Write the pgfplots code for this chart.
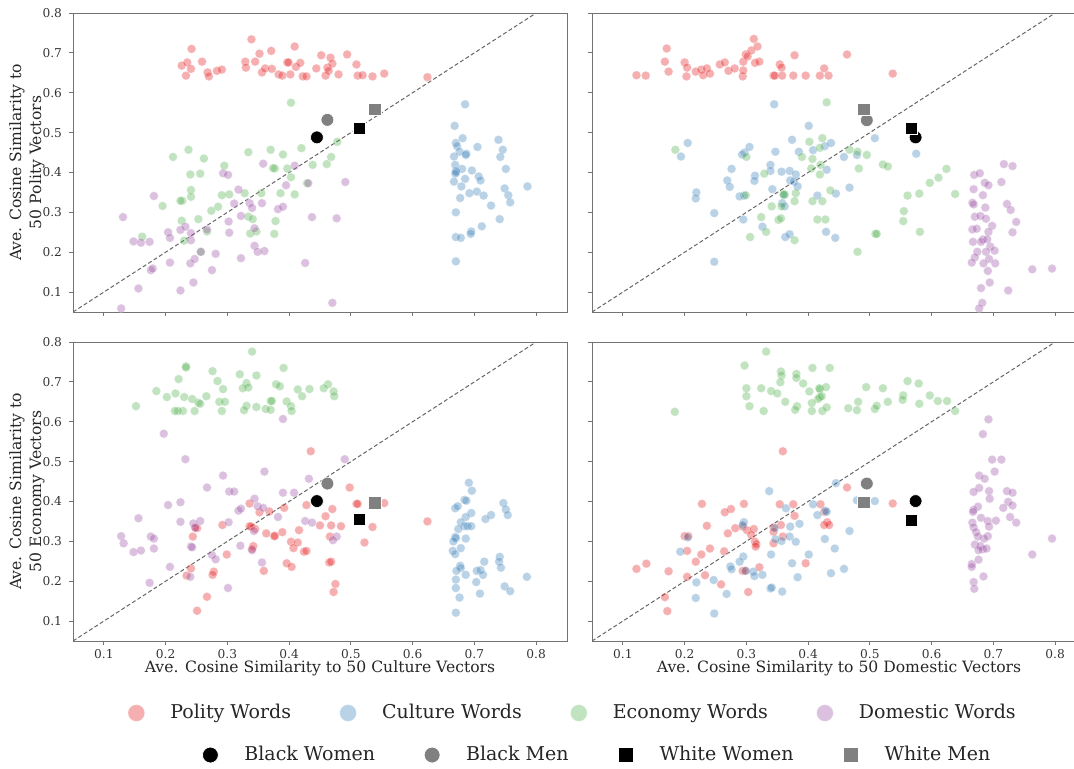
\documentclass[border=0pt]{standalone}
\usepackage{pgfplots}
\pgfplotsset{compat=1.18}
\usepackage{fontspec}
\setmainfont{DejaVu Serif}
\definecolor{cpol}{RGB}{228,26,28}
\definecolor{ccul}{RGB}{55,126,184}
\definecolor{ceco}{RGB}{77,175,74}
\definecolor{cdom}{RGB}{152,78,163}
\pgfplotsset{
  panel/.style={scale only axis, width=247pt, height=149.5pt,
    anchor=south west,
    xmin=0.05, xmax=0.85, ymin=0.05, ymax=0.8,
    xtick={0.1,0.2,0.3,0.4,0.5,0.6,0.7,0.8},
    ytick={0.1,0.2,0.3,0.4,0.5,0.6,0.7,0.8},
    tick align=outside, tick pos=left, major tick length=2pt,
    axis line style={black!55, line width=0.5pt},
    every tick/.style={black!55, line width=0.5pt},
    tick label style={font=\fontsize{6.1}{7}\selectfont, text=black!80},
    xticklabel style={yshift=1.2pt},
    /pgf/number format/assume math mode=true,
    /pgf/number format/fixed, /pgf/number format/precision=1,
    every axis y label/.style={at={(axis description cs:0,0.5)}, xshift=-14pt, rotate=90, anchor=south,
      inner sep=0pt, align=center, font=\fontsize{7.8}{10}\selectfont, text=black!85},
    every axis x label/.style={at={(axis description cs:0.5,0)}, anchor=north,
      yshift=-9.5pt, inner sep=0pt, font=\fontsize{7.8}{9.5}\selectfont, text=black!85},
  },
  wpol/.style={only marks, mark=*, mark size=2.2pt, mark options={fill=cpol, draw=white, line width=0.3pt, opacity=0.35}},
  wcul/.style={only marks, mark=*, mark size=2.2pt, mark options={fill=ccul, draw=white, line width=0.3pt, opacity=0.35}},
  weco/.style={only marks, mark=*, mark size=2.2pt, mark options={fill=ceco, draw=white, line width=0.3pt, opacity=0.35}},
  wdom/.style={only marks, mark=*, mark size=2.2pt, mark options={fill=cdom, draw=white, line width=0.3pt, opacity=0.35}},
  bw/.style={only marks, mark=*, mark size=3.2pt, mark options={fill=black, draw=white, line width=0.3pt}},
  bm/.style={only marks, mark=*, mark size=3.2pt, mark options={fill=gray, draw=white, line width=0.3pt}},
  ww/.style={only marks, mark=square*, mark size=3.1pt, mark options={fill=black, draw=white, line width=0.3pt}},
  wm/.style={only marks, mark=square*, mark size=3.1pt, mark options={fill=gray, draw=white, line width=0.3pt}},
  diag/.style={black!60, dash pattern=on 2pt off 1.2pt, line width=0.5pt, forget plot},
  legax/.style={hide axis, scale only axis, width=537pt, height=384pt, at={(0pt,0pt)}, anchor=south west,
    xmin=0, xmax=1, ymin=0, ymax=1,
    legend columns=4,
    legend image code/.code={\draw[##1] plot coordinates {(0pt,0pt)}; \path[draw=none, fill=none] (-5pt,-4.5pt) rectangle (17pt,4.5pt);},
  },
}
\begin{document}
\begin{tikzpicture}
% ---------------- Top left ----------------
\begin{axis}[panel, at={(36.5pt,228pt)}, xticklabels=\empty,
  ylabel={Ave. Cosine Similarity to\\50 Polity Vectors}]
\addplot[wpol] coordinates {(0.226,0.668)(0.233,0.643)(0.235,0.676)(0.242,0.710)(0.241,0.660)(0.259,0.678)(0.268,0.651)(0.270,0.641)(0.283,0.655)(0.291,0.658)(0.329,0.678)(0.330,0.663)(0.339,0.734)(0.345,0.678)(0.352,0.698)(0.356,0.651)(0.361,0.661)(0.371,0.705)(0.372,0.660)(0.383,0.646)(0.389,0.643)(0.397,0.676)(0.399,0.676)(0.402,0.646)(0.409,0.716)(0.411,0.665)(0.418,0.675)(0.422,0.641)(0.428,0.641)(0.444,0.661)(0.452,0.694)(0.459,0.643)(0.462,0.663)(0.464,0.655)(0.467,0.688)(0.470,0.673)(0.480,0.646)(0.494,0.696)(0.509,0.671)(0.511,0.643)(0.519,0.644)(0.535,0.641)(0.554,0.648)(0.624,0.639)};
\addplot[wcul] coordinates {(0.685,0.571)(0.668,0.517)(0.670,0.474)(0.672,0.466)(0.681,0.486)(0.676,0.452)(0.687,0.447)(0.686,0.444)(0.667,0.440)(0.705,0.464)(0.739,0.482)(0.746,0.457)(0.742,0.439)(0.669,0.419)(0.680,0.409)(0.670,0.404)(0.671,0.401)(0.669,0.397)(0.696,0.405)(0.707,0.390)(0.710,0.380)(0.685,0.384)(0.751,0.409)(0.667,0.377)(0.679,0.365)(0.677,0.336)(0.692,0.348)(0.704,0.352)(0.715,0.342)(0.749,0.360)(0.755,0.343)(0.758,0.325)(0.786,0.365)(0.727,0.317)(0.670,0.300)(0.741,0.283)(0.712,0.265)(0.695,0.252)(0.694,0.246)(0.670,0.238)(0.678,0.236)(0.670,0.177)};
\addplot[weco] coordinates {(0.403,0.575)(0.478,0.477)(0.468,0.439)(0.461,0.421)(0.438,0.419)(0.420,0.461)(0.397,0.410)(0.390,0.445)(0.377,0.410)(0.374,0.411)(0.370,0.457)(0.334,0.451)(0.295,0.417)(0.262,0.435)(0.256,0.397)(0.240,0.395)(0.237,0.457)(0.212,0.439)(0.403,0.388)(0.429,0.373)(0.409,0.345)(0.386,0.348)(0.355,0.348)(0.328,0.348)(0.303,0.345)(0.291,0.343)(0.241,0.356)(0.241,0.339)(0.227,0.329)(0.224,0.329)(0.195,0.316)(0.285,0.314)(0.274,0.304)(0.253,0.283)(0.226,0.279)(0.267,0.252)(0.230,0.229)(0.162,0.239)(0.334,0.289)(0.341,0.283)(0.337,0.247)(0.347,0.252)(0.378,0.278)(0.376,0.246)(0.257,0.201)};
\addplot[wdom] coordinates {(0.131,0.288)(0.181,0.341)(0.148,0.227)(0.160,0.224)(0.174,0.226)(0.204,0.250)(0.207,0.236)(0.224,0.256)(0.232,0.264)(0.241,0.248)(0.241,0.230)(0.207,0.174)(0.176,0.155)(0.179,0.159)(0.156,0.109)(0.128,0.059)(0.224,0.104)(0.245,0.124)(0.240,0.172)(0.247,0.183)(0.275,0.155)(0.281,0.196)(0.267,0.257)(0.303,0.249)(0.302,0.277)(0.322,0.291)(0.318,0.357)(0.311,0.322)(0.293,0.398)(0.301,0.394)(0.336,0.323)(0.340,0.311)(0.356,0.323)(0.344,0.260)(0.344,0.216)(0.349,0.201)(0.360,0.203)(0.322,0.185)(0.358,0.422)(0.382,0.308)(0.390,0.314)(0.395,0.368)(0.409,0.417)(0.431,0.373)(0.437,0.288)(0.477,0.285)(0.491,0.376)(0.426,0.173)(0.470,0.073)(0.257,0.201)};
\addplot[diag] coordinates {(0.05,0.05)(0.85,0.85)};
\addplot[bw] coordinates {(0.445,0.488)};
\addplot[bm] coordinates {(0.462,0.532)};
\addplot[ww] coordinates {(0.514,0.511)};
\addplot[wm] coordinates {(0.539,0.558)};
\end{axis}
% ---------------- Top right ----------------
\begin{axis}[panel, at={(296pt,228pt)}, xticklabels=\empty, yticklabels=\empty]
\addplot[wpol] coordinates {(0.122,0.644)(0.137,0.643)(0.171,0.711)(0.168,0.678)(0.174,0.653)(0.200,0.676)(0.204,0.663)(0.203,0.641)(0.218,0.653)(0.227,0.658)(0.230,0.644)(0.236,0.661)(0.241,0.648)(0.257,0.671)(0.265,0.676)(0.271,0.655)(0.281,0.661)(0.294,0.641)(0.295,0.656)(0.295,0.678)(0.299,0.696)(0.302,0.691)(0.308,0.706)(0.312,0.735)(0.318,0.716)(0.314,0.675)(0.321,0.678)(0.344,0.643)(0.346,0.643)(0.354,0.671)(0.357,0.663)(0.358,0.643)(0.376,0.643)(0.378,0.694)(0.396,0.643)(0.419,0.643)(0.426,0.661)(0.433,0.643)(0.463,0.696)(0.537,0.648)};
\addplot[wcul] coordinates {(0.345,0.571)(0.401,0.517)(0.205,0.474)(0.194,0.440)(0.297,0.450)(0.305,0.464)(0.293,0.445)(0.374,0.482)(0.347,0.452)(0.385,0.452)(0.408,0.456)(0.427,0.466)(0.437,0.474)(0.508,0.486)(0.458,0.439)(0.479,0.444)(0.575,0.447)(0.430,0.407)(0.276,0.409)(0.269,0.380)(0.273,0.364)(0.314,0.392)(0.313,0.379)(0.339,0.419)(0.339,0.404)(0.357,0.402)(0.370,0.404)(0.380,0.395)(0.371,0.380)(0.377,0.377)(0.383,0.365)(0.342,0.358)(0.219,0.350)(0.218,0.335)(0.289,0.340)(0.296,0.342)(0.361,0.343)(0.415,0.342)(0.445,0.347)(0.467,0.362)(0.358,0.323)(0.362,0.315)(0.248,0.298)(0.295,0.282)(0.326,0.264)(0.429,0.251)(0.444,0.236)(0.363,0.238)(0.370,0.245)(0.248,0.176)};
\addplot[weco] coordinates {(0.430,0.576)(0.185,0.457)(0.402,0.477)(0.423,0.486)(0.419,0.462)(0.390,0.439)(0.407,0.434)(0.420,0.419)(0.419,0.395)(0.405,0.410)(0.467,0.457)(0.480,0.452)(0.495,0.444)(0.482,0.410)(0.521,0.420)(0.529,0.415)(0.624,0.409)(0.611,0.387)(0.597,0.374)(0.580,0.347)(0.561,0.342)(0.638,0.346)(0.555,0.303)(0.554,0.278)(0.581,0.251)(0.509,0.246)(0.511,0.246)(0.480,0.201)(0.436,0.355)(0.423,0.328)(0.407,0.328)(0.428,0.282)(0.415,0.282)(0.380,0.348)(0.378,0.328)(0.362,0.345)(0.360,0.345)(0.357,0.315)(0.341,0.315)(0.299,0.343)(0.329,0.397)(0.324,0.288)(0.332,0.251)(0.352,0.281)(0.356,0.285)(0.378,0.230)(0.306,0.238)(0.300,0.439)};
\addplot[wdom] coordinates {(0.717,0.421)(0.731,0.416)(0.669,0.394)(0.678,0.398)(0.686,0.374)(0.692,0.368)(0.713,0.376)(0.668,0.358)(0.683,0.343)(0.666,0.324)(0.668,0.320)(0.687,0.312)(0.722,0.321)(0.728,0.306)(0.670,0.289)(0.679,0.291)(0.688,0.284)(0.737,0.276)(0.698,0.266)(0.666,0.257)(0.673,0.259)(0.692,0.251)(0.731,0.250)(0.667,0.226)(0.683,0.232)(0.680,0.226)(0.690,0.232)(0.695,0.214)(0.702,0.204)(0.674,0.201)(0.688,0.201)(0.670,0.187)(0.693,0.183)(0.665,0.174)(0.684,0.172)(0.703,0.172)(0.691,0.153)(0.763,0.157)(0.795,0.159)(0.694,0.124)(0.680,0.110)(0.724,0.104)(0.682,0.073)(0.677,0.059)};
\addplot[diag] coordinates {(0.05,0.05)(0.85,0.85)};
\addplot[bw] coordinates {(0.574,0.488)};
\addplot[bm] coordinates {(0.495,0.531)};
\addplot[ww] coordinates {(0.567,0.511)};
\addplot[wm] coordinates {(0.490,0.559)};
\end{axis}
% ---------------- Bottom left ----------------
\begin{axis}[panel, at={(36.5pt,63.5pt)},
  ylabel={Ave. Cosine Similarity to\\50 Economy Vectors},
  xlabel={Ave. Cosine Similarity to 50 Culture Vectors}]
\addplot[wpol] coordinates {(0.435,0.526)(0.498,0.435)(0.509,0.394)(0.511,0.394)(0.428,0.391)(0.470,0.381)(0.459,0.363)(0.450,0.340)(0.468,0.340)(0.484,0.338)(0.466,0.312)(0.522,0.297)(0.416,0.328)(0.403,0.299)(0.414,0.297)(0.407,0.283)(0.424,0.274)(0.428,0.276)(0.389,0.323)(0.377,0.314)(0.376,0.313)(0.363,0.320)(0.392,0.384)(0.368,0.375)(0.352,0.373)(0.345,0.331)(0.336,0.395)(0.339,0.337)(0.336,0.338)(0.292,0.341)(0.248,0.335)(0.251,0.333)(0.244,0.312)(0.299,0.267)(0.342,0.288)(0.340,0.281)(0.396,0.245)(0.404,0.236)(0.465,0.247)(0.468,0.249)(0.475,0.193)(0.472,0.173)(0.359,0.226)(0.278,0.224)(0.276,0.216)(0.241,0.232)(0.234,0.214)(0.267,0.161)(0.251,0.126)(0.554,0.396)(0.535,0.336)(0.624,0.350)};
\addplot[wcul] coordinates {(0.691,0.447)(0.696,0.427)(0.684,0.404)(0.687,0.402)(0.669,0.383)(0.673,0.388)(0.747,0.396)(0.751,0.380)(0.754,0.366)(0.727,0.366)(0.718,0.356)(0.695,0.371)(0.686,0.361)(0.678,0.348)(0.684,0.338)(0.689,0.338)(0.695,0.338)(0.674,0.331)(0.669,0.311)(0.670,0.308)(0.666,0.300)(0.686,0.307)(0.665,0.276)(0.669,0.268)(0.678,0.283)(0.677,0.239)(0.678,0.233)(0.686,0.216)(0.671,0.226)(0.670,0.204)(0.704,0.226)(0.710,0.228)(0.714,0.216)(0.716,0.249)(0.703,0.198)(0.670,0.183)(0.676,0.159)(0.709,0.169)(0.741,0.261)(0.740,0.249)(0.743,0.234)(0.749,0.187)(0.758,0.175)(0.785,0.211)(0.670,0.121)};
\addplot[weco] coordinates {(0.340,0.776)(0.233,0.739)(0.233,0.736)(0.391,0.735)(0.276,0.727)(0.221,0.707)(0.320,0.719)(0.347,0.716)(0.284,0.702)(0.331,0.697)(0.334,0.686)(0.379,0.694)(0.385,0.689)(0.325,0.684)(0.463,0.694)(0.293,0.682)(0.185,0.677)(0.216,0.671)(0.202,0.662)(0.230,0.662)(0.243,0.657)(0.266,0.664)(0.414,0.681)(0.433,0.682)(0.456,0.684)(0.472,0.676)(0.473,0.664)(0.396,0.651)(0.421,0.664)(0.370,0.652)(0.372,0.652)(0.287,0.650)(0.296,0.650)(0.253,0.648)(0.256,0.645)(0.403,0.639)(0.404,0.627)(0.362,0.632)(0.370,0.630)(0.347,0.637)(0.331,0.640)(0.327,0.629)(0.291,0.627)(0.247,0.627)(0.228,0.627)(0.220,0.627)(0.215,0.627)(0.152,0.639)};
\addplot[wdom] coordinates {(0.390,0.607)(0.197,0.570)(0.232,0.506)(0.293,0.465)(0.360,0.475)(0.267,0.435)(0.303,0.425)(0.311,0.425)(0.390,0.422)(0.408,0.422)(0.432,0.457)(0.490,0.506)(0.344,0.407)(0.349,0.388)(0.358,0.384)(0.318,0.377)(0.322,0.382)(0.204,0.391)(0.224,0.398)(0.156,0.358)(0.224,0.349)(0.245,0.345)(0.256,0.351)(0.248,0.334)(0.302,0.348)(0.382,0.361)(0.426,0.351)(0.437,0.347)(0.343,0.326)(0.477,0.312)(0.471,0.303)(0.128,0.313)(0.132,0.295)(0.148,0.273)(0.160,0.277)(0.176,0.312)(0.181,0.307)(0.181,0.282)(0.241,0.287)(0.243,0.285)(0.321,0.289)(0.340,0.278)(0.275,0.266)(0.281,0.255)(0.356,0.247)(0.207,0.236)(0.240,0.211)(0.174,0.196)(0.301,0.183)};
\addplot[diag] coordinates {(0.05,0.05)(0.85,0.85)};
\addplot[bw] coordinates {(0.445,0.401)};
\addplot[bm] coordinates {(0.462,0.445)};
\addplot[ww] coordinates {(0.514,0.355)};
\addplot[wm] coordinates {(0.539,0.397)};
\end{axis}
% ---------------- Bottom right ----------------
\begin{axis}[panel, at={(296pt,63.5pt)}, yticklabels=\empty,
  xlabel={Ave. Cosine Similarity to 50 Domestic Vectors}]
\addplot[wpol] coordinates {(0.359,0.526)(0.228,0.394)(0.275,0.381)(0.265,0.373)(0.296,0.394)(0.354,0.393)(0.376,0.393)(0.420,0.393)(0.463,0.435)(0.537,0.395)(0.378,0.364)(0.356,0.341)(0.344,0.335)(0.344,0.324)(0.359,0.312)(0.344,0.295)(0.426,0.374)(0.431,0.348)(0.426,0.341)(0.434,0.341)(0.236,0.339)(0.270,0.320)(0.282,0.333)(0.294,0.337)(0.301,0.328)(0.312,0.331)(0.308,0.316)(0.314,0.299)(0.316,0.293)(0.315,0.287)(0.200,0.313)(0.206,0.313)(0.204,0.276)(0.241,0.282)(0.227,0.267)(0.218,0.249)(0.264,0.275)(0.122,0.231)(0.138,0.244)(0.174,0.225)(0.204,0.211)(0.233,0.215)(0.259,0.192)(0.294,0.226)(0.298,0.226)(0.321,0.235)(0.396,0.245)(0.303,0.173)(0.168,0.160)(0.172,0.125)};
\addplot[wcul] coordinates {(0.337,0.426)(0.445,0.446)(0.479,0.403)(0.508,0.401)(0.408,0.393)(0.364,0.383)(0.428,0.377)(0.430,0.374)(0.415,0.366)(0.296,0.348)(0.294,0.341)(0.346,0.333)(0.371,0.337)(0.386,0.344)(0.370,0.312)(0.380,0.299)(0.357,0.301)(0.347,0.305)(0.427,0.306)(0.467,0.326)(0.443,0.282)(0.401,0.267)(0.340,0.267)(0.374,0.245)(0.383,0.210)(0.437,0.220)(0.458,0.231)(0.295,0.262)(0.289,0.249)(0.274,0.237)(0.276,0.230)(0.299,0.226)(0.311,0.224)(0.313,0.213)(0.326,0.216)(0.193,0.274)(0.205,0.310)(0.219,0.197)(0.247,0.203)(0.268,0.168)(0.339,0.182)(0.341,0.184)(0.358,0.174)(0.218,0.158)(0.248,0.119)};
\addplot[weco] coordinates {(0.332,0.776)(0.297,0.741)(0.407,0.735)(0.435,0.735)(0.356,0.726)(0.357,0.716)(0.381,0.720)(0.381,0.710)(0.355,0.699)(0.392,0.696)(0.561,0.702)(0.579,0.696)(0.300,0.684)(0.324,0.684)(0.340,0.677)(0.350,0.671)(0.402,0.676)(0.418,0.684)(0.419,0.682)(0.429,0.687)(0.494,0.687)(0.521,0.684)(0.300,0.664)(0.419,0.662)(0.416,0.657)(0.422,0.664)(0.554,0.666)(0.597,0.666)(0.610,0.652)(0.625,0.652)(0.553,0.655)(0.529,0.650)(0.580,0.645)(0.638,0.627)(0.305,0.639)(0.328,0.627)(0.363,0.650)(0.382,0.639)(0.379,0.630)(0.406,0.647)(0.406,0.627)(0.423,0.627)(0.430,0.636)(0.465,0.634)(0.481,0.650)(0.479,0.629)(0.508,0.632)(0.511,0.640)(0.184,0.625)};
\addplot[wdom] coordinates {(0.692,0.606)(0.683,0.569)(0.698,0.505)(0.713,0.505)(0.702,0.475)(0.677,0.465)(0.686,0.457)(0.677,0.434)(0.668,0.424)(0.693,0.426)(0.694,0.407)(0.722,0.426)(0.731,0.422)(0.724,0.399)(0.731,0.390)(0.716,0.384)(0.675,0.387)(0.668,0.379)(0.667,0.374)(0.680,0.359)(0.691,0.351)(0.704,0.352)(0.727,0.361)(0.737,0.347)(0.666,0.347)(0.668,0.335)(0.693,0.337)(0.672,0.323)(0.691,0.313)(0.685,0.307)(0.675,0.312)(0.670,0.292)(0.679,0.288)(0.683,0.280)(0.689,0.282)(0.676,0.278)(0.795,0.307)(0.763,0.267)(0.676,0.254)(0.665,0.243)(0.665,0.236)(0.684,0.212)(0.668,0.198)(0.669,0.181)};
\addplot[diag] coordinates {(0.05,0.05)(0.85,0.85)};
\addplot[bw] coordinates {(0.574,0.401)};
\addplot[bm] coordinates {(0.495,0.445)};
\addplot[ww] coordinates {(0.567,0.353)};
\addplot[wm] coordinates {(0.490,0.398)};
\end{axis}
% ---------------- Legends ----------------
\begin{axis}[legax,
  legend style={at={(axis description cs:0.1173,0.0716)}, anchor=west, draw=none, fill=none,
    inner sep=0pt, font=\fontsize{9.5}{11}\selectfont, text=black!85,
    cells={anchor=west}, nodes={inner sep=0pt, text height=0.75em, text depth=0.22em},
    /tikz/every even column/.append style={column sep=23.5pt}}]
\addlegendimage{only marks, mark=*, mark size=4.2pt, mark options={fill=cpol, draw=white, opacity=0.35}}
\addlegendentry{Polity Words}
\addlegendimage{only marks, mark=*, mark size=4.2pt, mark options={fill=ccul, draw=white, opacity=0.35}}
\addlegendentry{Culture Words}
\addlegendimage{only marks, mark=*, mark size=4.2pt, mark options={fill=ceco, draw=white, opacity=0.35}}
\addlegendentry{Economy Words}
\addlegendimage{only marks, mark=*, mark size=4.2pt, mark options={fill=cdom, draw=white, opacity=0.35}}
\addlegendentry{Domestic Words}
\end{axis}
\begin{axis}[legax,
  legend style={at={(axis description cs:0.1862,0.0169)}, anchor=west, draw=none, fill=none,
    inner sep=0pt, font=\fontsize{9.5}{11}\selectfont, text=black!85,
    cells={anchor=west}, nodes={inner sep=0pt, text height=0.75em, text depth=0.22em},
    /tikz/every even column/.append style={column sep=23.5pt}}]
\addlegendimage{only marks, mark=*, mark size=4pt, mark options={fill=black, draw=white}}
\addlegendentry{Black Women}
\addlegendimage{only marks, mark=*, mark size=4pt, mark options={fill=gray, draw=white}}
\addlegendentry{Black Men}
\addlegendimage{only marks, mark=square*, mark size=3.8pt, mark options={fill=black, draw=white}}
\addlegendentry{White Women}
\addlegendimage{only marks, mark=square*, mark size=3.8pt, mark options={fill=gray, draw=white}}
\addlegendentry{White Men}
\end{axis}
\pgfresetboundingbox
\useasboundingbox (0pt,0pt) rectangle (537pt,384pt);
\end{tikzpicture}
\end{document}
